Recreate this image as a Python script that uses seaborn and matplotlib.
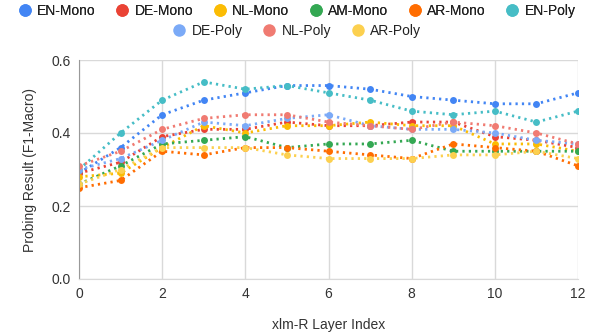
import numpy as np
import pandas as pd
import matplotlib
matplotlib.use("Agg")
import matplotlib.pyplot as plt
from matplotlib.lines import Line2D
import seaborn as sns

# --- data ---
layers = list(range(13))
series_names = ["EN-Mono", "DE-Mono", "NL-Mono", "AM-Mono", "AR-Mono",
                "EN-Poly", "DE-Poly", "NL-Poly", "AR-Poly"]

en_mono = [0.29, 0.36, 0.45, 0.49, 0.51, 0.53, 0.53, 0.52, 0.50, 0.49, 0.48, 0.48, 0.51]
de_mono = [0.29, 0.32, 0.39, 0.41, 0.41, 0.43, 0.42, 0.42, 0.43, 0.43, 0.39, 0.38, 0.36]
nl_mono = [0.28, 0.29, 0.36, 0.42, 0.40, 0.42, 0.42, 0.43, 0.42, 0.42, 0.37, 0.37, 0.35]
am_mono = [0.26, 0.31, 0.37, 0.38, 0.39, 0.36, 0.37, 0.37, 0.38, 0.35, 0.35, 0.35, 0.35]
ar_mono = [0.25, 0.27, 0.35, 0.34, 0.36, 0.36, 0.35, 0.34, 0.33, 0.37, 0.36, 0.35, 0.31]
en_poly = [0.30, 0.40, 0.49, 0.54, 0.52, 0.53, 0.51, 0.49, 0.46, 0.45, 0.46, 0.43, 0.46]
de_poly = [0.30, 0.33, 0.38, 0.43, 0.42, 0.44, 0.45, 0.42, 0.41, 0.41, 0.40, 0.38, 0.37]
nl_poly = [0.31, 0.35, 0.41, 0.44, 0.45, 0.45, 0.43, 0.42, 0.41, 0.43, 0.42, 0.40, 0.37]
ar_poly = [0.26, 0.30, 0.36, 0.36, 0.36, 0.34, 0.33, 0.33, 0.33, 0.34, 0.34, 0.35, 0.33]

colors = ["#4285F4", "#EA4335", "#FBBC04", "#34A853", "#FF6D01",
          "#46BDC6", "#7BAAF7", "#F07B72", "#FCD04F"]

all_values = [en_mono, de_mono, nl_mono, am_mono, ar_mono,
              en_poly, de_poly, nl_poly, ar_poly]

df = pd.DataFrame({
    "layer": layers * len(series_names),
    "score": np.concatenate(all_values),
    "series": np.repeat(series_names, len(layers)),
})
palette = dict(zip(series_names, colors))

sns.set_style("white")
plt.rcParams["font.family"] = ["Liberation Sans", "DejaVu Sans"]

fig = plt.figure(figsize=(5.92, 3.36), dpi=100)
ax = fig.add_axes([79 / 592, 1 - 279 / 336, (578 - 79) / 592, (279 - 60) / 336])

sns.lineplot(data=df, x="layer", y="score", hue="series", palette=palette,
             hue_order=series_names, marker="o", markersize=5, markeredgewidth=0,
             linewidth=2, linestyle=(0, (0.8, 1.5)), legend=False, ax=ax)

ax.set_xlim(0, 12)
ax.set_ylim(0, 0.6)
ax.set_xticks(range(0, 13, 2))
ax.set_yticks([0.0, 0.2, 0.4, 0.6])
ax.set_yticklabels(["0.0", "0.2", "0.4", "0.6"])
ax.grid(True, color="#d9d9d9", linewidth=1)
ax.set_axisbelow(True)
for side in ["top", "right"]:
    ax.spines[side].set_visible(False)
ax.spines["left"].set_color("#999999")
ax.spines["bottom"].set_color("#d9d9d9")
ax.tick_params(axis="both", length=0, labelsize=10, colors="#333333", pad=6)
ax.set_xlabel("xlm-R Layer Index", fontsize=10, color="#333333", labelpad=12)
ax.set_ylabel("Probing Result (F1-Macro)", fontsize=10, color="#333333", labelpad=10)

handles = [Line2D([], [], linestyle="none", marker="o", markersize=9,
                  markerfacecolor=c, markeredgewidth=0) for c in colors]
leg1 = fig.legend(handles[:6], series_names[:6], loc="center", ncol=6,
                  bbox_to_anchor=(0.5, 1 - 11 / 336), frameon=False, fontsize=10,
                  handletextpad=0.3, columnspacing=1.3, handlelength=1.2,
                  labelcolor="#222222")
fig.legend(handles[6:], series_names[6:], loc="center", ncol=3,
           bbox_to_anchor=(0.5, 1 - 31 / 336), frameon=False, fontsize=10,
           handletextpad=0.3, columnspacing=1.3, handlelength=1.2,
           labelcolor="#222222")
fig.add_artist(leg1)

fig.savefig("out.png", dpi=100)
